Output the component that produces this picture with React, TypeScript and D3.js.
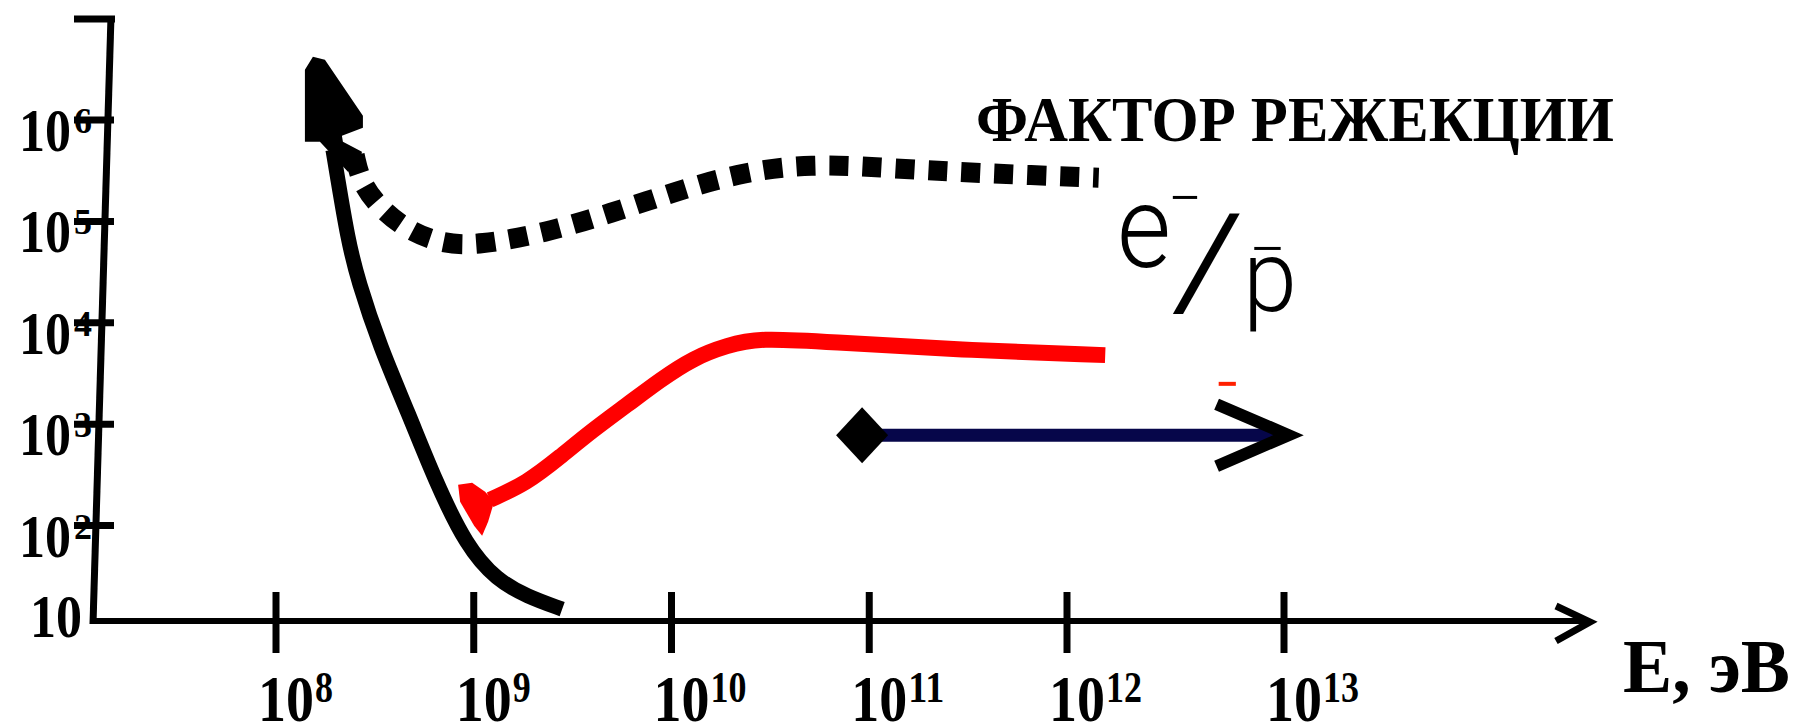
import React from 'react';
import * as d3 from 'd3';

const width = 1795;
const height = 728;

// tick powers of ten
const xTickPowers = [8, 9, 10, 11, 12, 13];
const yTickPowers = [2, 3, 4, 5, 6];

// black threshold curve (energy, eV -> value)
const blackE = [1.94e8, 2.03e8, 2.31e8, 2.6e8, 3.36e8, 4.66e8, 6.37e8, 9.2e8, 1.31e9, 1.86e9, 2.8e9];
const blackV = [5.1e5, 3.0e5, 6.6e4, 2.6e4, 5.8e3, 1.3e3, 280, 62, 29, 20, 15];

// dotted curve: rejection factor
const rejE = [2.5e8, 2.7e8, 3.5e8, 4.8e8, 7.0e8, 1.05e9, 2.3e9, 4.9e9, 1.07e10, 2.3e10, 5.1e10, 1.15e11, 2.5e11, 5.4e11, 1.4e12];
const rejV = [4.5e5, 2.3e5, 1.24e5, 7.9e4, 6.0e4, 5.8e4, 7.7e4, 1.2e5, 2.0e5, 3.07e5, 3.7e5, 3.4e5, 3.1e5, 2.9e5, 2.7e5];

// red curve
const redE = [1.21e9, 1.86e9, 2.73e9, 4.0e9, 5.96e9, 8.75e9, 1.29e10, 1.91e10, 2.8e10, 6.1e10, 2.9e11, 1.5e12];
const redV = [180, 263, 475, 877, 1.55e3, 2.73e3, 4.5e3, 6.0e3, 7.1e3, 6.5e3, 5.4e3, 4.8e3];

// range arrow
const rangeE = [9.2e10, 1.05e13];
const rangeV = 780;

// little red stroke under the label
const dashE = [5.0e12, 6.0e12];
const dashV = 2.5e3;

const serif = "'Liberation Serif', 'Times New Roman', serif";
const sans = "Roboto, 'DejaVu Sans', sans-serif";

const x = d3.scaleLog().domain([1e8, 1e12, 1e13]).range([276, 1067, 1284]);
const y = d3.scaleLog().domain([10, 1e6]).range([627, 120]);

const line = d3.line<[number, number]>()
  .x(d => x(d[0]))
  .y(d => y(d[1]))
  .curve(d3.curveBasis);

const zip = (a: number[], b: number[]) => a.map((v, i) => [v, b[i]] as [number, number]);

const headPath = (sx: number, sy: number, pts: number[][]) =>
  'M' + pts.map(p => `${sx + p[0]},${sy + p[1]}`).join('L') + 'Z';

// axis frame (hand drawn, slightly tilted y axis)
const axisTop = { x: 111, y: 19 };
const axisBottom = { x: 93, y: 621 };
const xAxisEnd = 1590;

export default function App() {
  const bx = x(blackE[0]), by = y(blackV[0]);
  const blackHead = headPath(bx, by, [[-20, -93], [-8, -90], [30, -34], [30, -22], [9, -14], [10, -8], [29, 2], [27, 16], [15, 22], [-13, -8], [-28, -8], [-28, -80]]);
  const rx = x(redE[0]), ry = y(redV[0]);
  const redHead = headPath(rx, ry, [[-32, -15], [-18, -17], [-5, -8], [4, 2], [-2, 22], [-8, 36], [-16, 26], [-30, 2]]);

  const ax0 = x(rangeE[0]), ax1 = x(rangeE[1]), ay = y(rangeV);

  return (
    <svg width={width} height={height} style={{ position: 'absolute', left: 0, top: 0, background: '#fff' }}>
      {/* y axis */}
      <line x1={axisTop.x} y1={axisTop.y - 3} x2={axisBottom.x} y2={axisBottom.y + 3} stroke="#000" strokeWidth={7} />
      <line x1={74} y1={axisTop.y} x2={axisTop.x + 4} y2={axisTop.y} stroke="#000" strokeWidth={7} />
      {yTickPowers.map(p => (
        <g key={p}>
          <text x={19} y={y(10 ** p) + 31} fontFamily={serif} fontWeight="bold" fontSize={62} textLength={52} lengthAdjust="spacingAndGlyphs">10</text>
          <text x={74} y={y(10 ** p) + 13} fontFamily={serif} fontWeight="bold" fontSize={36} textLength={18} lengthAdjust="spacingAndGlyphs">{p}</text>
          <line x1={74} x2={114} y1={y(10 ** p)} y2={y(10 ** p)} stroke="#000" strokeWidth={7} />
        </g>
      ))}
      <text x={30} y={y(10) + 10} fontFamily={serif} fontWeight="bold" fontSize={62} textLength={52} lengthAdjust="spacingAndGlyphs">10</text>

      {/* x axis */}
      <line x1={axisBottom.x} y1={axisBottom.y} x2={xAxisEnd - 2} y2={axisBottom.y} stroke="#000" strokeWidth={6} />
      <polyline points={`${xAxisEnd - 34},${axisBottom.y - 15} ${xAxisEnd},${axisBottom.y + 1} ${xAxisEnd - 34},${axisBottom.y + 20}`} fill="none" stroke="#000" strokeWidth={7} />
      {xTickPowers.map(p => {
        const tx = x(10 ** p);
        const digits = String(p).length;
        return (
          <g key={p}>
            <line x1={tx} x2={tx} y1={592} y2={653} stroke="#000" strokeWidth={7} />
            <text x={tx - 18} y={721} fontFamily={serif} fontWeight="bold" fontSize={65} textLength={56} lengthAdjust="spacingAndGlyphs">10</text>
            <text x={tx - 18 + 57} y={702} fontFamily={serif} fontWeight="bold" fontSize={45} textLength={18 * digits} lengthAdjust="spacingAndGlyphs">{p}</text>
          </g>
        );
      })}
      <text x={1623} y={692} fontFamily={serif} fontWeight="bold" fontSize={76} textLength={167} lengthAdjust="spacingAndGlyphs">E, эВ</text>

      {/* dotted rejection factor */}
      <path d={line(zip(rejE, rejV)) ?? ''} fill="none" stroke="#000" strokeWidth={20} strokeDasharray="19 14" />

      {/* black curve with head */}
      <path d={line(zip(blackE, blackV)) ?? ''} fill="none" stroke="#000" strokeWidth={15} />
      <path d={blackHead} fill="#000" />

      {/* red curve with head */}
      <path d={line(zip(redE, redV)) ?? ''} fill="none" stroke="#ff0000" strokeWidth={16} />
      <path d={redHead} fill="#ff0000" />

      {/* range arrow */}
      <line x1={ax0} x2={ax1 - 4} y1={ay} y2={ay} stroke="#06064a" strokeWidth={13} />
      <path d={`M${ax0 - 26},${ay} L${ax0},${ay - 28} L${ax0 + 26},${ay} L${ax0},${ay + 28} Z`} fill="#000" />
      <polyline points={`${ax1 - 72},${ay - 31} ${ax1},${ay} ${ax1 - 72},${ay + 31}`} fill="none" stroke="#000" strokeWidth={12} />

      <line x1={x(dashE[0])} x2={x(dashE[1])} y1={y(dashV)} y2={y(dashV)} stroke="#ff2000" strokeWidth={4} />

      {/* labels */}
      <text x={976} y={141} fontFamily={serif} fontWeight="bold" fontSize={64} textLength={638} lengthAdjust="spacingAndGlyphs">ФАКТОР РЕЖЕКЦИИ</text>
      <text x={1117} y={267} fontFamily={sans} fontWeight={300} fontSize={115} textLength={54} lengthAdjust="spacingAndGlyphs">e</text>
      <text x={1168} y={219} fontFamily={sans} fontWeight={300} fontSize={60} textLength={34} lengthAdjust="spacingAndGlyphs">−</text>
      <text x={1170} y={306} fontFamily={sans} fontWeight={300} fontSize={130} textLength={76} lengthAdjust="spacingAndGlyphs">/</text>
      <text x={1243} y={311} fontFamily={sans} fontWeight={300} fontSize={100} textLength={54} lengthAdjust="spacingAndGlyphs">p</text>
      <text x={1249} y={270} fontFamily={sans} fontWeight={300} fontSize={60} textLength={37} lengthAdjust="spacingAndGlyphs">−</text>
    </svg>
  );
}
